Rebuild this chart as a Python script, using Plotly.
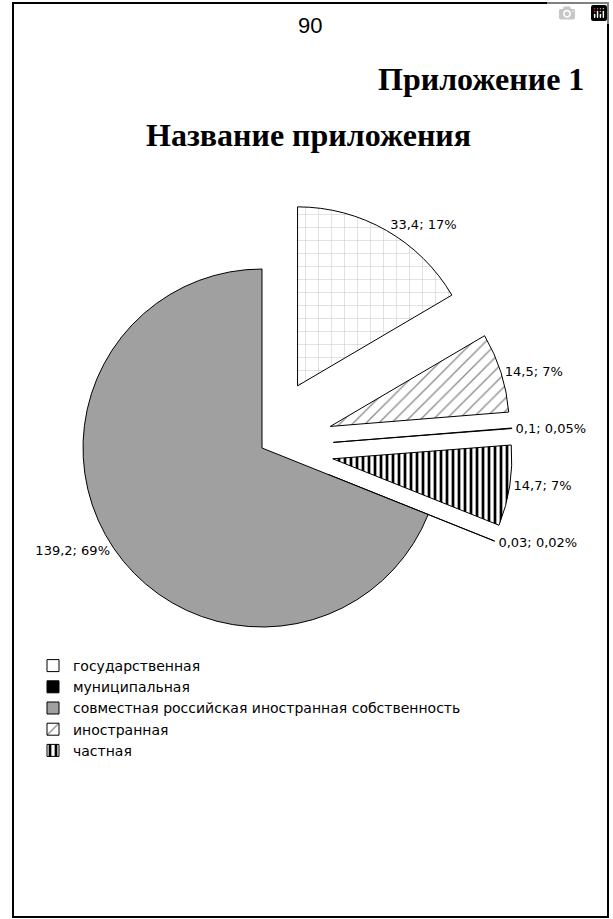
import plotly.graph_objects as go

# ---------------- data ----------------
categories = [
    "государственная",
    "иностранная",
    "муниципальная",
    "частная",
    "прочая",
    "совместная российская иностранная собственность",
]
values = [33.4, 14.5, 0.1, 14.7, 0.03, 139.2]
percent_labels = ["17%", "7%", "0,05%", "7%", "0,02%", "69%"]

legend_categories = [
    "государственная",
    "муниципальная",
    "совместная российская иностранная собственность",
    "иностранная",
    "частная",
]

page_number = "90"
appendix_label = "Приложение 1"
chart_title = "Название приложения"

# ---------------- styles ----------------
style = {
    "государственная": dict(bg="#ffffff", shape="+", fg="#c8c8c8", size=13, sol=0.08),
    "иностранная": dict(bg="#ffffff", shape="/", fg="#8c8c8c", size=9, sol=0.15),
    "муниципальная": dict(bg="#000000", shape="", fg="#000000", size=8, sol=0.3),
    "частная": dict(bg="#ffffff", shape="|", fg="#000000", size=6, sol=0.45),
    "прочая": dict(bg="#ffffff", shape="", fg="#000000", size=8, sol=0.3),
    "совместная российская иностранная собственность": dict(bg="#a0a0a0", shape="", fg="#a0a0a0", size=8, sol=0.3),
}
pulls = {c: (0.0 if c.startswith("совместная") else 0.4) for c in categories}


def fmt_num(v):
    return f"{v:g}".replace(".", ",")


text_labels = [f"{fmt_num(v)}; {p}" for v, p in zip(values, percent_labels)]

W, H = 613, 919


def px_x(x):
    return x / W


def px_y(y):
    return 1 - y / H


def pattern_for(cats):
    return dict(
        shape=[style[c]["shape"] for c in cats],
        fgcolor=[style[c]["fg"] for c in cats],
        bgcolor=[style[c]["bg"] for c in cats],
        size=[style[c]["size"] for c in cats],
        solidity=[style[c]["sol"] for c in cats],
    )


fig = go.Figure()

# legend-only helper pie (tiny, hidden under the grey slice)
fig.add_trace(go.Pie(
    labels=legend_categories,
    values=[values[categories.index(c)] for c in legend_categories],
    sort=False,
    direction="clockwise",
    textinfo="none",
    hoverinfo="skip",
    showlegend=True,
    automargin=False,
    domain=dict(x=[px_x(199), px_x(200)], y=[px_y(481), px_y(480)]),
    marker=dict(
        colors=[style[c]["bg"] for c in legend_categories],
        line=dict(color="#000000", width=1),
        pattern=pattern_for(legend_categories),
    ),
))

# main pie
cx, cy, r, maxpull = 262, 448, 179, 0.4
half = r * (1 + maxpull)
fig.add_trace(go.Pie(
    labels=categories,
    values=values,
    text=text_labels,
    textinfo="text",
    textposition="outside",
    textfont=dict(family="DejaVu Sans", size=13, color="#000000"),
    sort=False,
    direction="clockwise",
    rotation=0,
    pull=[pulls[c] for c in categories],
    showlegend=False,
    automargin=False,
    domain=dict(x=[px_x(cx - half), px_x(cx + half)], y=[px_y(cy + half), px_y(cy - half)]),
    marker=dict(
        colors=[style[c]["bg"] for c in categories],
        line=dict(color="#000000", width=1),
        pattern=pattern_for(categories),
    ),
))

fig.update_layout(
    width=W,
    height=H,
    margin=dict(l=0, r=0, t=0, b=0, pad=0, autoexpand=False),
    paper_bgcolor="#ffffff",
    plot_bgcolor="#ffffff",
    separators=", ",
    legend=dict(
        x=px_x(33), y=px_y(650), xanchor="left", yanchor="top",
        font=dict(family="DejaVu Sans", size=14, color="#000000"),
        bgcolor="rgba(0,0,0,0)",
        traceorder="normal",
    ),
    shapes=[
        dict(type="rect", xref="paper", yref="paper",
             x0=px_x(13), x1=px_x(608), y0=px_y(917), y1=px_y(3),
             line=dict(color="#000000", width=2)),
    ],
    annotations=[
        dict(text=page_number, x=px_x(310), y=px_y(25), xref="paper", yref="paper",
             xanchor="center", yanchor="middle", showarrow=False,
             font=dict(family="Liberation Sans", size=22, color="#000000")),
        dict(text=f"<b>{appendix_label}</b>", x=px_x(586), y=px_y(79), xref="paper", yref="paper",
             xanchor="right", yanchor="middle", showarrow=False,
             font=dict(family="Liberation Serif", size=32, color="#000000")),
        dict(text=f"<b>{chart_title}</b>", x=px_x(308), y=px_y(135), xref="paper", yref="paper",
             xanchor="center", yanchor="middle", showarrow=False,
             font=dict(family="Liberation Serif", size=32, color="#000000")),
    ],
)

fig.write_html("out.html", post_script="document.body.style.margin='0';")
